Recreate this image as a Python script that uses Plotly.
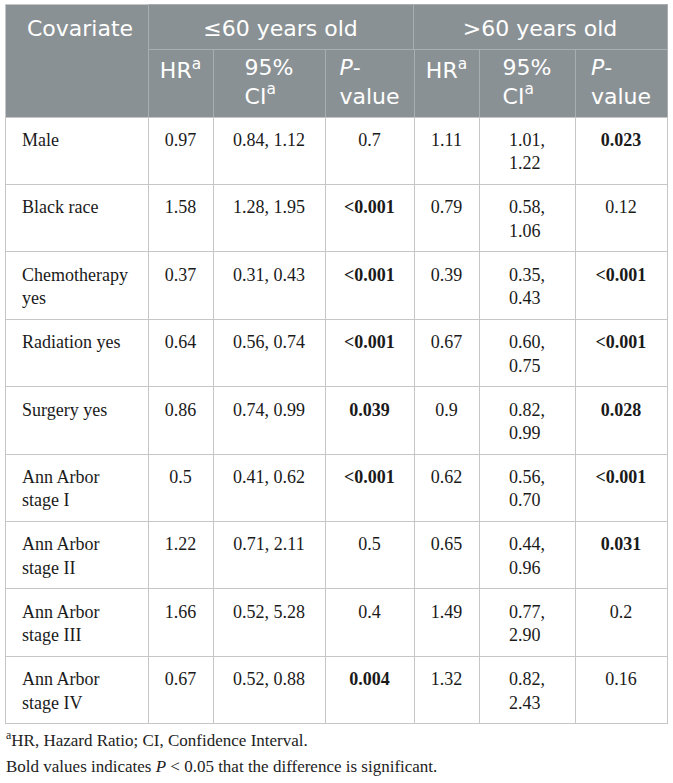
import plotly.graph_objects as go

W, H = 673, 783

# table data
covariates = ["Male", "Black race", "Chemotherapy<br>yes", "Radiation yes", "Surgery yes",
              "Ann Arbor<br>stage I", "Ann Arbor<br>stage II", "Ann Arbor<br>stage III",
              "Ann Arbor<br>stage IV"]
hr_young = [0.97, 1.58, 0.37, 0.64, 0.86, 0.5, 1.22, 1.66, 0.67]
ci_lo_young = ["0.84", "1.28", "0.31", "0.56", "0.74", "0.41", "0.71", "0.52", "0.52"]
ci_hi_young = ["1.12", "1.95", "0.43", "0.74", "0.99", "0.62", "2.11", "5.28", "0.88"]
p_young = ["0.7", "<0.001", "<0.001", "<0.001", "0.039", "<0.001", "0.5", "0.4", "0.004"]
hr_old = [1.11, 0.79, 0.39, 0.67, 0.9, 0.62, 0.65, 1.49, 1.32]
ci_lo_old = ["1.01", "0.58", "0.35", "0.60", "0.82", "0.56", "0.44", "0.77", "0.82"]
ci_hi_old = ["1.22", "1.06", "0.43", "0.75", "0.99", "0.70", "0.96", "2.90", "2.43"]
p_old = ["0.023", "0.12", "<0.001", "<0.001", "0.028", "<0.001", "0.031", "0.2", "0.16"]

top_labels = ["Covariate", "≤60 years old", ">60 years old"]
sub_labels = ["HR<sup>a</sup>", "95%<br>CI<sup>a</sup>", "<i>P</i>-<br>value"]

HEAD_FILL = "#8a9194"
HEAD_LINE = "#a8aeb1"
GRID = "#c6c6c6"
CLEAR = "rgba(0,0,0,0)"
SANS = "DejaVu Sans"
SERIF = "Liberation Serif"


def fmt_p(p):
    val = float(p.lstrip("<"))
    p = p.replace("<", "&lt;")
    return "<b>" + p + "</b>" if val < 0.05 else p


def span(s):
    # same text path for every cell so the baselines line up
    return "<span>" + s.replace(">", "&gt;") + "</span>" if "<" not in s else s


def px(x):
    return x / W


def py(y):
    return 1 - y / H


pad = "\u00a0\u00a0"
col_w = [143, 65, 112, 89, 65, 96, 92]
n = len(covariates)
row_h = 67.4

body = [
    [pad + c.replace("<br>", "<br>" + pad) for c in covariates],
    [str(v) for v in hr_young],
    [a + ", " + b for a, b in zip(ci_lo_young, ci_hi_young)],
    [fmt_p(p) for p in p_young],
    [str(v) for v in hr_old],
    [a + ",<br>" + b for a, b in zip(ci_lo_old, ci_hi_old)],
    [fmt_p(p) for p in p_old],
]
body = [[span(s) for s in col] for col in body]

fig = go.Figure()

# grid: header block + body cells, no text
fig.add_trace(go.Table(
    domain=dict(x=[px(5), px(667)], y=[0, py(4)]),
    columnwidth=col_w,
    header=dict(values=[""] * 7, height=113, fill_color=HEAD_FILL,
                line=dict(color=GRID, width=1)),
    cells=dict(values=[[""] * n for _ in col_w], height=row_h, fill_color="white",
               line=dict(color=GRID, width=1)),
))
# header row 1 grid (age groups)
fig.add_trace(go.Table(
    domain=dict(x=[px(148), px(667)], y=[py(49), py(4)]),
    columnwidth=[265, 254],
    header=dict(values=["", ""], height=45, fill_color=HEAD_FILL,
                line=dict(color=HEAD_LINE, width=1)),
    cells=dict(values=[[], []]),
))
# header row 2 grid
fig.add_trace(go.Table(
    domain=dict(x=[px(148), px(667)], y=[py(117), py(49)]),
    columnwidth=col_w[1:],
    header=dict(values=[""] * 6, height=68, fill_color=HEAD_FILL,
                line=dict(color=HEAD_LINE, width=1)),
    cells=dict(values=[[] for _ in range(6)]),
))

# text layers
fig.add_trace(go.Table(
    domain=dict(x=[px(5), px(667)], y=[0, py(8)]),
    columnwidth=[143, 265, 254],
    header=dict(values=[span(pad + top_labels[0])] + [span(s) for s in top_labels[1:]],
                height=40, fill_color=CLEAR, line=dict(color=CLEAR, width=0),
                align=["left", "center", "center"],
                font=dict(family=SANS, size=22, color="white")),
    cells=dict(values=[[], [], []]),
))
fig.add_trace(go.Table(
    domain=dict(x=[px(148), px(667)], y=[0, py(47)]),
    columnwidth=col_w[1:],
    header=dict(values=sub_labels * 2, height=60,
                fill_color=CLEAR, line=dict(color=CLEAR, width=0), align="center",
                font=dict(family=SANS, size=22, color="white")),
    cells=dict(values=[[] for _ in range(6)]),
))
fig.add_trace(go.Table(
    domain=dict(x=[px(5), px(667)], y=[0, py(117 + 5 - 20)]),
    columnwidth=col_w,
    header=dict(values=[""] * 7, height=20, fill_color=CLEAR,
                line=dict(color=CLEAR, width=0)),
    cells=dict(values=body, height=row_h, fill_color=CLEAR,
               line=dict(color=CLEAR, width=0),
               align=["left"] + ["center"] * 6,
               font=dict(family=SERIF, size=18, color="#1a1a1a")),
))

notes = ["<sup>a</sup>HR, Hazard Ratio; CI, Confidence Interval.",
         "Bold values indicates <i>P</i> &lt; 0.05 that the difference is significant."]
for i, t in enumerate(notes):
    fig.add_annotation(text=t, x=px(4), y=py(739 + 27 * i), xref="paper", yref="paper",
                       xanchor="left", yanchor="middle", showarrow=False,
                       font=dict(family=SERIF, size=17, color="#222222"))

fig.update_layout(width=W, height=H, margin=dict(l=0, r=0, t=0, b=0),
                  paper_bgcolor="white", showlegend=False)

fig.write_html("out.html", config={"displayModeBar": False},
               post_script="document.body.style.margin='0';")
